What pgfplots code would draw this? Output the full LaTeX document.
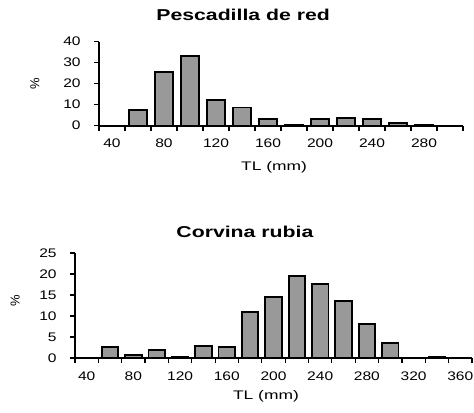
\documentclass[border=0pt]{standalone}
\usepackage{fontspec}
\setmainfont{Liberation Sans}
\usepackage{pgfplots}
\pgfplotsset{compat=1.18}
\definecolor{barfill}{RGB}{153,153,153}

% common look of both histograms
\pgfplotsset{
  histo/.style={
    scale only axis,
    ybar, bar width=#1,
    axis on top,
    axis x line*=bottom, axis y line*=left,
    axis line style={line width=2.2bp, black},
    ymin=0,
    tick align=outside,
    major tick length=5bp,
    tick style={line width=1.2bp, black},
    ticklabel style={font=\fontsize{12.5}{13}\selectfont},
    /pgf/number format/assume math mode=true,
    xlabel style={font=\fontsize{12.5}{14}\selectfont, xscale=1.4, anchor=center},
    ylabel style={font=\fontsize{13}{14}\selectfont, anchor=center},
    title style={font=\fontsize{15.8}{18}\selectfont\bfseries, xscale=1.35, anchor=center},
  },
  bars/.style={fill=barfill, draw=black, line width=1.8bp},
}

\begin{document}
\begin{tikzpicture}
\useasboundingbox (0,-413bp) rectangle (474bp,0);

% Pescadilla de red: classes 40..300 mm at 0..13
\begin{axis}[histo=17.5bp,
  at={(99bp,-125.7bp)}, anchor=south west,
  width=364bp, height=84bp,
  xmin=-0.5, xmax=13.5, ymax=40,
  ytick={0,10,...,40},
  xtick={-0.5,0.5,...,13.5},
  xticklabels={40,,80,,120,,160,,200,,240,,280,,},
  xticklabel style={xshift=13bp, yshift=-5bp, xscale=1.25},
  yticklabel style={xshift=-9bp, xscale=1.25},
  title={Pescadilla de red},
  title style={at={(axis description cs:0.396,1.245)}},
  xlabel={TL (mm)},
  xlabel style={at={(axis description cs:0.481,-0.5)}},
  ylabel={\%},
  ylabel style={at={(axis description cs:-0.176,0.5)}},
]
\addplot[bars] coordinates {(0,0) (1,7.5) (2,25.5) (3,33.2) (4,12.2) (5,8.7) (6,3.2)
  (7,0.5) (8,3.2) (9,3.7) (10,3.2) (11,1.4) (12,0.4) (13,0)};
\end{axis}

% Corvina rubia: classes 40..360 mm at 0..16
\begin{axis}[histo=16.5bp,
  at={(75bp,-358bp)}, anchor=south west,
  width=397bp, height=105bp,
  xmin=-0.5, xmax=16.5, ymax=25,
  ytick={0,5,...,25},
  xtick={-0.5,0.5,...,16.5},
  xticklabels={40,,80,,120,,160,,200,,240,,280,,320,,360,},
  xticklabel style={xshift=11.68bp, yshift=-5bp, xscale=1.25},
  yticklabel style={xshift=-9bp, xscale=1.25},
  title={Corvina rubia},
  title style={at={(axis description cs:0.428,1.145)}},
  xlabel={TL (mm)},
  xlabel style={at={(axis description cs:0.481,-0.36)}},
  ylabel={\%},
  ylabel style={at={(axis description cs:-0.151,0.55)}},
]
\addplot[bars] coordinates {(0,0) (1,2.6) (2,0.8) (3,2.0) (4,0.2) (5,2.9) (6,2.7)
  (7,11.0) (8,14.6) (9,19.5) (10,17.6) (11,13.5) (12,8.1) (13,3.6)
  (14,0) (15,0.2) (16,0)};
\end{axis}
\end{tikzpicture}
\end{document}
